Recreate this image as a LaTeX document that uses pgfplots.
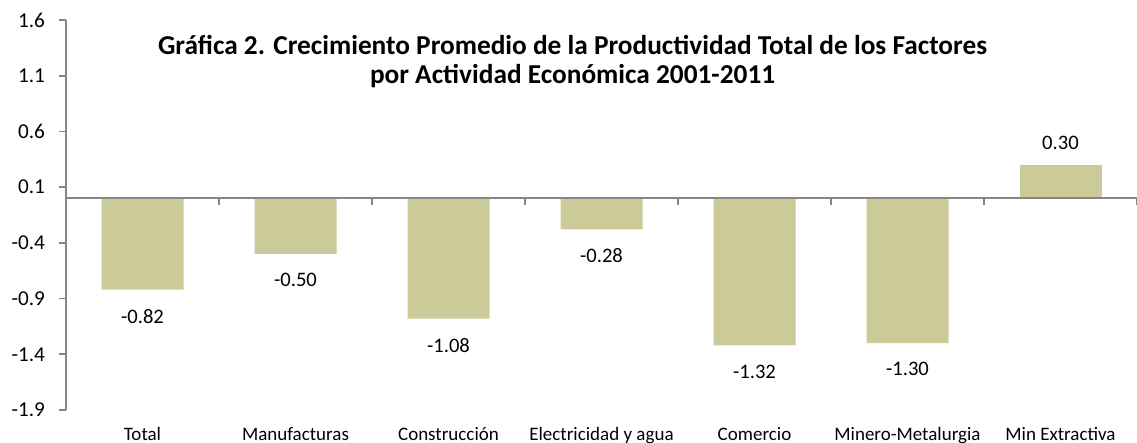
\documentclass[border=0pt]{standalone}
\usepackage{fontspec}
\setmainfont{Carlito}
\usepackage{pgfplots}
\pgfplotsset{compat=1.18}
\definecolor{barc}{RGB}{203,203,153}
\definecolor{axc}{RGB}{134,134,134}
\begin{document}
\begin{tikzpicture}
\useasboundingbox (-33pt,-16.5pt) rectangle (535.5pt,205pt);
\begin{axis}[
 at={(0pt,0pt)}, anchor=south west,
 scale only axis, width=535.5pt, height=195pt,
 xmin=-0.5, xmax=6.5, ymin=-1.9, ymax=1.6,
 axis y line*=left, axis x line*=bottom,
 x axis line style={draw=none},
 y axis line style={axc, line width=0.8pt},
 ytick={-1.9,-1.4,-0.9,-0.4,0.1,0.6,1.1,1.6},
 /pgf/number format/assume math mode=true,
 yticklabel style={font=\fontsize{10.6}{12}\selectfont, /pgf/number format/fixed, /pgf/number format/fixed zerofill, /pgf/number format/precision=1, xshift=-3.5pt},
 ytick style={axc, line width=0.8pt},
 tick align=outside, major tick length=3.5pt,
 xtick={0,...,6},
 xticklabels={Total, Manufacturas, Construcción, Electricidad y agua, Comercio, Minero-Metalurgia, Min Extractiva},
 xtick style={draw=none},
 xticklabel style={font=\fontsize{9.5}{11}\selectfont, yshift=-1.5pt},
 ybar, bar width=41pt, bar shift=0pt,
 point meta=explicit symbolic,
 nodes near coords,
 every node near coord/.append style={font=\fontsize{10.3}{12}\selectfont, text=black},
 clip=false,
]
\addplot[fill=barc, draw=none, every node near coord/.append style={anchor=north, inner ysep=9.5pt}] coordinates {
 (0,-0.82) [-0.82]
 (1,-0.50) [-0.50]
 (2,-1.08) [-1.08]
 (3,-0.28) [-0.28]
 (4,-1.32) [-1.32]
 (5,-1.30) [-1.30]
};
\addplot[fill=barc, draw=none, every node near coord/.append style={anchor=south, inner ysep=7.5pt}] coordinates {
 (6,0.30) [0.30]
};
\draw[axc, line width=0.8pt] (axis cs:-0.5,0) -- (axis cs:6.5,0);
\pgfplotsinvokeforeach{0.5,1.5,2.5,3.5,4.5,5.5,6.5}{
 \draw[axc, line width=0.8pt] (axis cs:#1,0) -- ([yshift=-3.5pt]axis cs:#1,0);
}
\node[font=\bfseries\fontsize{13.66}{14.5}\selectfont, align=center] at (rel axis cs:0.473,0.894)
 {Gráfica 2. Crecimiento Promedio de la Productividad Total de los Factores\\por Actividad Económica 2001-2011};
\end{axis}
\end{tikzpicture}
\end{document}
